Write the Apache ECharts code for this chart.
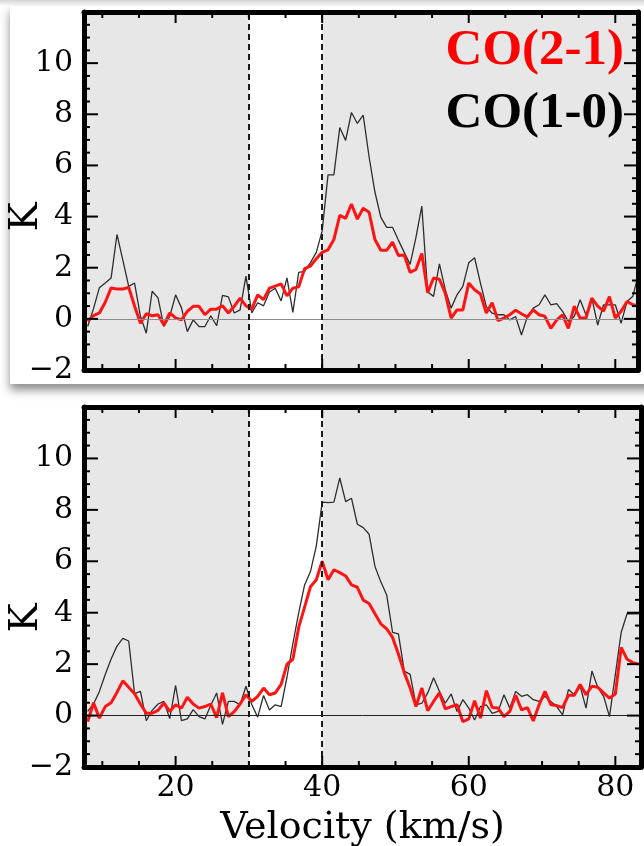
<!DOCTYPE html>
<html>
<head>
<meta charset="utf-8">
<script src="https://cdn.jsdelivr.net/npm/echarts@6/dist/echarts.min.js"></script>
<style>
  html, body { margin: 0; padding: 0; background: #ffffff; }
  #chart { width: 644px; height: 846px; }
</style>
</head>
<body>
<div id="chart"></div>
<script>
// Channel velocities (km/s), shared by both spectra
const velocity = [
  8.0, 8.8, 9.6, 10.4, 11.2, 12.0, 12.8, 13.6, 14.4, 15.2,
  16.0, 16.8, 17.6, 18.4, 19.2, 20.0, 20.8, 21.6, 22.4, 23.2,
  24.0, 24.8, 25.6, 26.4, 27.2, 28.0, 28.8, 29.6, 30.4, 31.2,
  32.0, 32.8, 33.6, 34.4, 35.2, 36.0, 36.8, 37.6, 38.4, 39.2,
  40.0, 40.8, 41.6, 42.4, 43.2, 44.0, 44.8, 45.6, 46.4, 47.2,
  48.0, 48.8, 49.6, 50.4, 51.2, 52.0, 52.8, 53.6, 54.4, 55.2,
  56.0, 56.8, 57.6, 58.4, 59.2, 60.0, 60.8, 61.6, 62.4, 63.2,
  64.0, 64.8, 65.6, 66.4, 67.2, 68.0, 68.8, 69.6, 70.4, 71.2,
  72.0, 72.8, 73.6, 74.4, 75.2, 76.0, 76.8, 77.6, 78.4, 79.2,
  80.0, 80.8, 81.6, 82.4, 83.2
];

// Upper spectrum, antenna temperature (K)
const co21Upper = [
  -0.10, 0.13, 0.23, 0.65, 1.21, 1.17, 1.17, 1.23, 0.50, -0.17,
  0.20, 0.12, 0.16, -0.24, 0.23, 0.04, -0.04, 0.29, 0.49, 0.49,
  0.16, 0.38, 0.38, 0.51, 0.23, 0.49, 0.81, 0.51, 0.38, 0.94,
  0.75, 1.20, 1.28, 1.37, 0.90, 1.20, 1.25, 1.96, 2.06, 2.35,
  2.60, 2.70, 3.10, 4.05, 3.93, 4.49, 3.90, 4.33, 4.17, 3.10,
  2.68, 2.68, 3.00, 2.48, 2.50, 1.82, 1.93, 2.56, 1.02, 1.60,
  1.55, 1.00, 0.03, 0.35, 0.35, 1.40, 1.14, 0.97, 0.23, 0.63,
  -0.07, 0.03, 0.16, 0.34, 0.20, 0.07, 0.35, 0.16, 0.10, -0.37,
  -0.05, 0.16, -0.37, 0.50, 0.03, 0.03, 0.81, 0.50, 0.30, 0.87,
  0.03, 0.30, 0.68, 0.55, 0.50
];
const co10Upper = [
  -0.30, 0.40, 1.22, 1.40, 1.60, 3.30, 2.30, 1.27, 1.40, 0.10,
  -0.56, 1.08, 0.82, -0.30, 0.09, 0.94, 0.43, -0.50, -0.04, -0.30,
  -0.30, 0.12, -0.27, 0.92, 0.86, 0.23, 0.35, 1.67, 0.23, 0.63,
  0.51, 1.05, 1.20, 0.70, 1.60, 0.25, 1.82, 1.86, 2.20, 2.60,
  3.44, 5.63, 5.63, 7.48, 6.98, 8.07, 7.64, 7.97, 6.34, 4.96,
  3.98, 3.58, 3.58, 3.08, 2.60, 2.13, 3.19, 4.41, 1.05, 0.88,
  2.15, 1.14, 0.42, 0.94, 1.27, 2.19, 2.39, 1.40, 0.48, 0.22,
  0.16, 0.16, -0.04, 0.09, -0.63, 0.09, 0.42, 0.55, 0.94, 0.55,
  0.60, 0.29, -0.10, 0.09, 0.75, 0.16, 0.81, -0.24, 0.55, 0.55,
  0.55, -0.17, 0.68, 0.88, 1.80
];

// Lower spectrum, antenna temperature (K)
const co21Lower = [
  -0.24, 0.50, -0.10, 0.35, 0.50, 0.90, 1.35, 1.10, 0.85, 0.45,
  0.09, 0.09, 0.20, 0.49, 0.16, 0.42, 0.29, 0.71, 0.45, 0.29,
  0.35, 0.45, -0.08, 0.88, -0.04, 0.15, 0.45, 0.81, 0.55, 0.75,
  1.07, 0.81, 0.88, 1.21, 2.00, 2.19, 3.44, 4.22, 5.01, 5.28,
  6.00, 5.28, 5.67, 5.56, 5.43, 5.08, 4.99, 4.49, 4.36, 3.96,
  3.57, 3.37, 3.04, 2.39, 1.67, 1.07, 0.35, 1.07, 0.19, 0.55,
  0.88, 0.26, 0.35, 0.42, -0.24, -0.13, 0.58, -0.10, 0.97, 0.31,
  0.29, -0.04, 0.16, 0.79, 0.22, 0.31, -0.21, 0.42, 0.94, 0.42,
  0.39, 0.31, 0.79, 0.79, 1.21, 0.81, 1.14, 1.10, 0.88, 0.68,
  0.84, 2.65, 2.19, 2.06, 2.00
];
const co10Lower = [
  0.16, 0.45, 0.94, 1.60, 2.20, 2.70, 3.00, 2.90, 0.85, 0.94,
  -0.20, 0.20, 0.45, 0.55, -0.12, 1.17, -0.20, -0.13, 0.23, -0.04,
  -0.13, 0.40, 0.88, -0.34, 0.55, 0.55, 0.42, 1.14, 0.42, -0.06,
  0.78, 0.22, 0.42, 0.35, 1.50, 2.80, 4.00, 5.08, 5.60, 6.60,
  8.30, 8.28, 8.30, 9.24, 8.32, 8.45, 7.44, 7.31, 7.05, 5.80,
  5.20, 4.69, 3.24, 3.18, 1.73, 1.60, 0.42, 0.48, 0.88, 1.47,
  0.94, 0.48, 0.84, 0.16, 0.62, 0.29, -0.17, 0.35, 0.42, 0.09,
  0.16, 0.81, 0.29, 0.94, 0.75, 0.81, 0.62, 0.55, 0.75, 0.55,
  0.35, 0.03, 1.01, 0.81, 1.14, 0.29, 1.73, 1.10, 0.75, -0.04,
  1.60, 3.24, 3.96, 3.96, 3.96
];

// Tick marks and the unshaded velocity window
const xMajorTicks = [20, 40, 60, 80];
const xMinorTicks = [10, 15, 25, 30, 35, 45, 50, 55, 65, 70, 75];
const yMajorTicks = [0, 2, 4, 6, 8, 10];
const yMinorTicks = [-1.5, -1, -0.5, 0.5, 1, 1.5, 2.5, 3, 3.5, 4.5, 5, 5.5,
  6.5, 7, 7.5, 8.5, 9, 9.5, 10.5, 11, 11.5];
const windowEdges = [30, 40];
const xMin = 7.5;
const xMaxUpper = 83.1;
const xMaxLower = 83.5;
const yMin = -2;
const yMax = 12;
const yStep = 2;

const SERIF = '"DejaVu Serif", "Liberation Serif", serif';
const INK = '#000000';
const panelXMax = [xMaxUpper, xMaxLower];

function pairs(values) {
  return velocity.map(function (v, i) { return [v, values[i]]; });
}

function yLabel(v) {
  if (v >= yMax) return '';
  return v < 0 ? '\u2212' + Math.abs(v) : String(v);
}

// tick records: [value, kind] with kind 0/1 = x major/minor, 2/3 = y major/minor
const tickRecords = []
  .concat(xMajorTicks.map(function (v) { return [v, 0]; }))
  .concat(xMinorTicks.map(function (v) { return [v, 1]; }))
  .concat(yMajorTicks.map(function (v) { return [v, 2]; }))
  .concat(yMinorTicks.map(function (v) { return [v, 3]; }));
const tickLength = [11, 6, 14, 6];

function tickRenderer(xMax) {
  return function (params, api) {
    const v = api.value(0);
    const kind = api.value(1);
    const len = tickLength[kind];
    const style = { stroke: INK, lineWidth: 2 };
    let a, b, lines;
    if (kind < 2) {
      a = api.coord([v, yMin]);
      b = api.coord([v, yMax]);
      lines = [
        { x1: a[0], y1: a[1], x2: a[0], y2: a[1] - len },
        { x1: b[0], y1: b[1], x2: b[0], y2: b[1] + len }
      ];
    } else {
      a = api.coord([xMin, v]);
      b = api.coord([xMax, v]);
      lines = [
        { x1: a[0], y1: a[1], x2: a[0] + len, y2: a[1] },
        { x1: b[0], y1: b[1], x2: b[0] - len, y2: b[1] }
      ];
    }
    return {
      type: 'group',
      children: lines.map(function (s) { return { type: 'line', shape: s, style: style }; })
    };
  };
}

function bandItem(params, api) {
  const p0 = api.coord([api.value(0), yMax]);
  const p1 = api.coord([api.value(1), yMin]);
  return {
    type: 'rect',
    shape: { x: p0[0], y: p0[1], width: p1[0] - p0[0], height: p1[1] - p0[1] },
    style: { fill: '#e7e7e7' }
  };
}

function xAxis(g, xMax, position, withLabels) {
  return {
    type: 'value', gridIndex: g, position: position, min: xMin, max: xMax, z: 10,
    splitLine: { show: false },
    axisLine: { show: true, onZero: false, lineStyle: { color: INK, width: 5 } },
    axisTick: { show: false },
    axisLabel: withLabels
      ? { show: true, customValues: xMajorTicks, margin: 6, fontFamily: SERIF, fontSize: 30, color: INK }
      : { show: false },
    name: withLabels ? 'Velocity (km/s)' : '',
    nameLocation: 'middle', nameGap: 42,
    nameTextStyle: { fontFamily: SERIF, fontSize: 38, color: INK }
  };
}

function yAxis(g, position, withLabels) {
  return {
    type: 'value', gridIndex: g, position: position, min: yMin, max: yMax, interval: yStep, z: 10,
    axisLine: { show: true, onZero: false, lineStyle: { color: INK, width: 5 } },
    axisTick: { show: false },
    minorTick: { show: false },
    splitLine: { show: false },
    minorSplitLine: { show: false },
    axisLabel: withLabels
      ? { show: true, formatter: yLabel, margin: 11, fontFamily: SERIF, fontSize: 30, color: INK }
      : { show: false }
  };
}

function seriesFor(g, co21, co10, zeroColor) {
  const xi = g * 2;
  const yi = g * 2;
  const xMax = panelXMax[g];
  return [
    {
      // shaded velocity ranges outside the window
      type: 'custom', xAxisIndex: xi, yAxisIndex: yi, z: 1, silent: true,
      renderItem: bandItem,
      data: [[xMin, windowEdges[0]], [windowEdges[1], xMax]]
    },
    {
      // zero baseline and dashed window edges
      type: 'line', xAxisIndex: xi, yAxisIndex: yi, data: [], z: 2, silent: true,
      markLine: {
        silent: true, symbol: ['none', 'none'], label: { show: false },
        data: [
          { yAxis: 0, lineStyle: { color: zeroColor, width: 1, type: 'solid' } },
          { xAxis: windowEdges[0], lineStyle: { color: '#1a1a1a', width: 2, type: [6, 4] } },
          { xAxis: windowEdges[1], lineStyle: { color: '#1a1a1a', width: 2, type: [6, 4] } }
        ]
      }
    },
    {
      name: 'CO(1-0)', type: 'line', xAxisIndex: xi, yAxisIndex: yi, z: 3,
      data: pairs(co10), showSymbol: false, symbol: 'none',
      lineStyle: { color: '#2e2e2e', width: 1.3 }
    },
    {
      name: 'CO(2-1)', type: 'line', xAxisIndex: xi, yAxisIndex: yi, z: 4,
      data: pairs(co21), showSymbol: false, symbol: 'none',
      lineStyle: { color: '#ff1414', width: 3 }
    },
    {
      // inward tick marks on all four frame edges
      type: 'custom', xAxisIndex: xi, yAxisIndex: yi, z: 6, silent: true, clip: false,
      renderItem: tickRenderer(xMax),
      data: tickRecords
    }
  ];
}

const chart = echarts.init(document.getElementById('chart'), null, { renderer: 'canvas' });

chart.setOption({
  animation: false,
  backgroundColor: '#ffffff',
  grid: [
    { left: 84, top: 12, width: 554, height: 358, outerBoundsMode: 'none', containLabel: false },
    { left: 84, top: 407, width: 557, height: 360, outerBoundsMode: 'none', containLabel: false }
  ],
  xAxis: [
    xAxis(0, xMaxUpper, 'bottom', false),
    xAxis(0, xMaxUpper, 'top', false),
    xAxis(1, xMaxLower, 'bottom', true),
    xAxis(1, xMaxLower, 'top', false)
  ],
  yAxis: [
    yAxis(0, 'left', true),
    yAxis(0, 'right', false),
    yAxis(1, 'left', true),
    yAxis(1, 'right', false)
  ],
  series: seriesFor(0, co21Upper, co10Upper, '#8c8c8c')
    .concat(seriesFor(1, co21Lower, co10Lower, '#222222')),
  graphic: [
    {
      type: 'rect', z: -1, silent: true,
      shape: { x: 0, y: 0, width: 644, height: 6 },
      style: { fill: new echarts.graphic.LinearGradient(0, 0, 0, 1, [
        { offset: 0, color: '#d4d4d4' }, { offset: 1, color: '#ffffff' }]) }
    },
    {
      // raised card behind the upper panel
      type: 'rect', z: -1, silent: true,
      shape: { x: 10, y: 6, width: 660, height: 378 },
      style: { fill: '#ffffff', shadowBlur: 9, shadowOffsetY: 6,
        shadowColor: 'rgba(0,0,0,0.45)' }
    },
    {
      type: 'text', z: 100, silent: true, x: 624, y: 51,
      style: { text: 'CO(2-1)', fill: '#ff0000',
        font: 'bold 51px "Liberation Serif", "Times New Roman", serif',
        textAlign: 'right', textVerticalAlign: 'middle', align: 'right', verticalAlign: 'middle' }
    },
    {
      type: 'text', z: 100, silent: true, x: 624, y: 114,
      style: { text: 'CO(1-0)', fill: '#000000',
        font: 'bold 51px "Liberation Serif", "Times New Roman", serif',
        textAlign: 'right', textVerticalAlign: 'middle', align: 'right', verticalAlign: 'middle' }
    },
    {
      type: 'text', z: 100, silent: true, x: 27, y: 217, rotation: Math.PI / 2,
      style: { text: 'K', fill: INK, font: '39px ' + SERIF,
        textAlign: 'center', textVerticalAlign: 'middle', align: 'center', verticalAlign: 'middle' }
    },
    {
      type: 'text', z: 100, silent: true, x: 27, y: 618, rotation: Math.PI / 2,
      style: { text: 'K', fill: INK, font: '39px ' + SERIF,
        textAlign: 'center', textVerticalAlign: 'middle', align: 'center', verticalAlign: 'middle' }
    }
  ]
});
</script>
</body>
</html>
